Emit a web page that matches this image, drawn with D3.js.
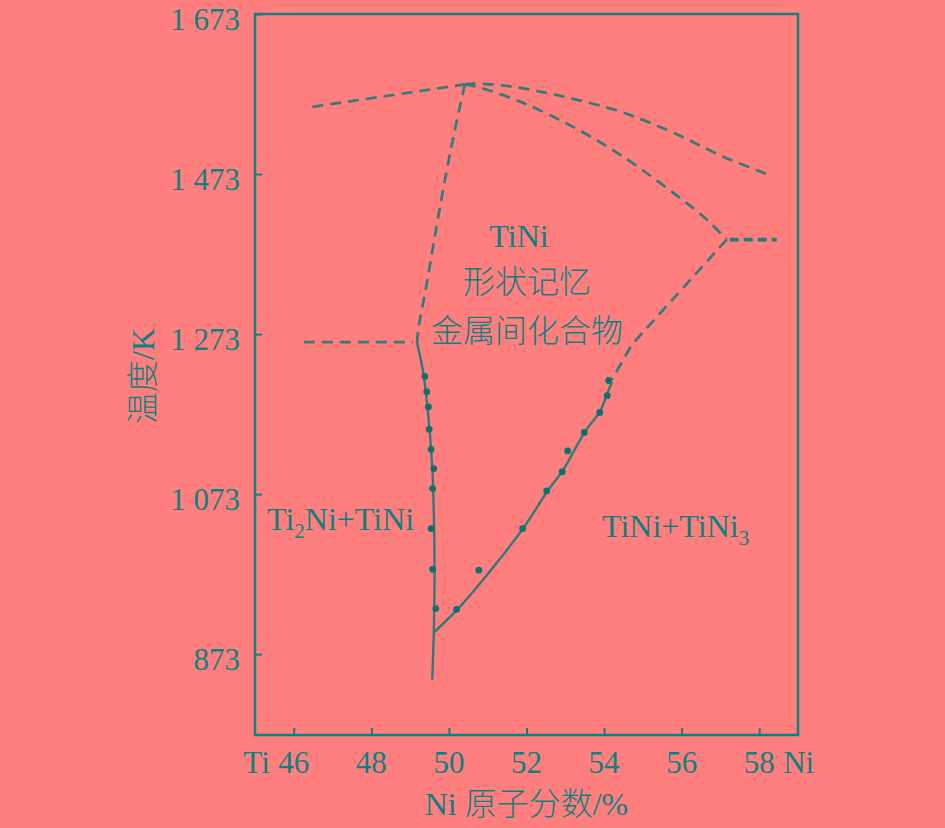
<!DOCTYPE html>
<html>
<head>
<meta charset="utf-8">
<script src="https://cdn.jsdelivr.net/npm/d3@7"></script>
<style>
  body { margin: 0; background: #ff7f7f; }
  svg text { font-family: "Liberation Serif", "Noto Sans CJK SC", serif; fill: #0f7f7f; }
</style>
</head>
<body>
<div id="chart"></div>
<script>
// tick values
const xTicks = [46, 48, 50, 52, 54, 56, 58]
const yTicks = [873, 1073, 1273, 1473, 1673]
const yTickLabels = ["873", "1 073", "1 273", "1 473", "1 673"]

// dashed boundaries  [Ni %, K]
const liquidusLeft = [[46.48, 1557], [50.41, 1585]]
const liquidusRight = [[50.41, 1585], [50.62, 1586], [51.5, 1583], [52.35, 1576], [53.2, 1567], [54.48, 1550], [55.77, 1525], [57.06, 1495], [58.35, 1470]]
const solidusRight = [[50.41, 1585], [50.8, 1581], [51.91, 1562], [53.2, 1532], [54.48, 1495], [55.77, 1450], [56.65, 1416], [57.16, 1391]]
const solidusLeft = [[50.41, 1585], [50.1, 1516], [49.77, 1432], [49.43, 1337], [49.2, 1275], [49.18, 1262]]
const eutecticLeft = [[46.26, 1263], [49.07, 1263]]
const peritecticRight = [[57.24, 1391], [58.45, 1391]]
const solvusUpperRight = [[57.16, 1391], [54.72, 1260], [54.2, 1216]]

// solid solvus lines
const solvusLeft = [[49.18, 1262], [49.34, 1224], [49.47, 1170], [49.57, 1107], [49.61, 1049], [49.63, 974], [49.62, 932], [49.61, 899], [49.57, 841]]
const solvusRight = [[49.61, 900], [50.2, 928], [50.88, 966], [51.91, 1030], [52.53, 1076], [52.94, 1103], [53.51, 1151], [53.89, 1176], [54.07, 1197], [54.2, 1213]]

// measured points
const dotsLeft = [[49.38, 1220], [49.43, 1201], [49.47, 1182], [49.49, 1154], [49.54, 1129], [49.61, 1105], [49.58, 1080], [49.54, 1030], [49.58, 979], [49.66, 930]]
const dotsRight = [[50.2, 929], [50.77, 978], [51.9, 1030], [52.52, 1077], [52.92, 1101], [53.06, 1127], [53.49, 1150], [53.89, 1175], [54.08, 1196], [54.12, 1215]]

const teal = "#0f7f7f"
const dashColor = "#357a78"

const svg = d3.select("#chart").append("svg")
    .attr("width", 945)
    .attr("height", 828)

svg.append("rect").attr("width", 945).attr("height", 828).attr("fill", "#ff7f7f")

const x = d3.scaleLinear().domain([45, 59]).range([255, 798])
const y = d3.scaleLinear().domain([772, 1673]).range([735, 14])

// frame
svg.append("rect")
    .attr("x", x(45)).attr("y", y(1673))
    .attr("width", x(59) - x(45)).attr("height", y(772) - y(1673))
    .attr("fill", "none").attr("stroke", teal).attr("stroke-width", 2.5)

// x axis, ticks pointing inward
const xAxis = svg.append("g")
    .attr("transform", `translate(0,${y(772)})`)
    .call(d3.axisTop(x).tickValues(xTicks).tickSize(7).tickFormat(""))
xAxis.select(".domain").remove()
xAxis.selectAll("line").attr("stroke", teal).attr("stroke-width", 2)

svg.selectAll(".xlab")
    .data(xTicks)
    .join("text")
    .attr("class", "xlab")
    .attr("x", d => x(d))
    .attr("y", 773)
    .attr("text-anchor", "middle")
    .style("font-size", "31px")
    .text(d => d)

svg.append("text").attr("x", x(46) - 24).attr("y", 773).attr("text-anchor", "end")
    .style("font-size", "31px").text("Ti")
svg.append("text").attr("x", x(58) + 24).attr("y", 773).attr("text-anchor", "start")
    .style("font-size", "31px").text("Ni")

// y axis
const yAxis = svg.append("g")
    .attr("transform", `translate(${x(45)},0)`)
    .call(d3.axisRight(y).tickValues(yTicks).tickSize(7).tickFormat(""))
yAxis.select(".domain").remove()
yAxis.selectAll("line").attr("stroke", teal).attr("stroke-width", 2)

svg.selectAll(".ylab")
    .data(yTicks)
    .join("text")
    .attr("class", "ylab")
    .attr("x", 240)
    .attr("y", d => y(d) + 16)
    .attr("text-anchor", "end")
    .style("font-size", "31px")
    .text((d, i) => yTickLabels[i])

// axis titles
svg.append("text")
    .attr("x", (x(45) + x(59)) / 2)
    .attr("y", 815)
    .attr("text-anchor", "middle")
    .style("font-size", "32px")
    .style("font-weight", 300)
    .text("Ni 原子分数/%")

svg.append("text")
    .attr("transform", "translate(154,376) rotate(-90)")
    .attr("text-anchor", "middle")
    .style("font-size", "32px")
    .style("font-weight", 300)
    .text("温度/K")

// boundaries
const smooth = d3.line().x(d => x(d[0])).y(d => y(d[1])).curve(d3.curveCatmullRom.alpha(0.5))
const straight = d3.line().x(d => x(d[0])).y(d => y(d[1]))

const dashed = [
    [liquidusLeft, straight],
    [liquidusRight, smooth],
    [solidusRight, smooth],
    [solidusLeft, smooth],
    [eutecticLeft, straight],
    [solvusUpperRight, straight]
]
dashed.forEach(([pts, gen]) => {
    svg.append("path")
        .attr("d", gen(pts))
        .attr("fill", "none")
        .attr("stroke", dashColor)
        .attr("stroke-width", 2.7)
        .attr("stroke-dasharray", "11,7")
})

svg.append("path")
    .attr("d", straight(peritecticRight))
    .attr("fill", "none")
    .attr("stroke", "#1b7f7c")
    .attr("stroke-width", 3.8)
    .attr("stroke-dasharray", "9,5")

;[solvusLeft, solvusRight].forEach(pts => {
    svg.append("path")
        .attr("d", smooth(pts))
        .attr("fill", "none")
        .attr("stroke", "#2f7a78")
        .attr("stroke-width", 2.4)
})

svg.selectAll(".dot")
    .data(dotsLeft.concat(dotsRight))
    .join("circle")
    .attr("class", "dot")
    .attr("cx", d => x(d[0]))
    .attr("cy", d => y(d[1]))
    .attr("r", 3.4)
    .attr("fill", "#0f7070")

// region labels
const label = (tx, ty, str, size) => svg.append("text")
    .attr("x", tx).attr("y", ty)
    .attr("text-anchor", "middle")
    .style("font-size", size + "px")
    .style("font-weight", 300)
    .text(str)

label(519, 247, "TiNi", 32)
label(527, 293, "形状记忆", 32)
label(527, 342, "金属间化合物", 32)

const t1 = svg.append("text").attr("x", 267).attr("y", 530).style("font-size", "32px")
t1.append("tspan").text("Ti")
t1.append("tspan").attr("dy", 8).style("font-size", "21px").text("2")
t1.append("tspan").attr("dy", -8).text("Ni+TiNi")

const t2 = svg.append("text").attr("x", 602).attr("y", 537).style("font-size", "32px")
t2.append("tspan").text("TiNi+TiNi")
t2.append("tspan").attr("dy", 8).style("font-size", "21px").text("3")
</script>
</body>
</html>
